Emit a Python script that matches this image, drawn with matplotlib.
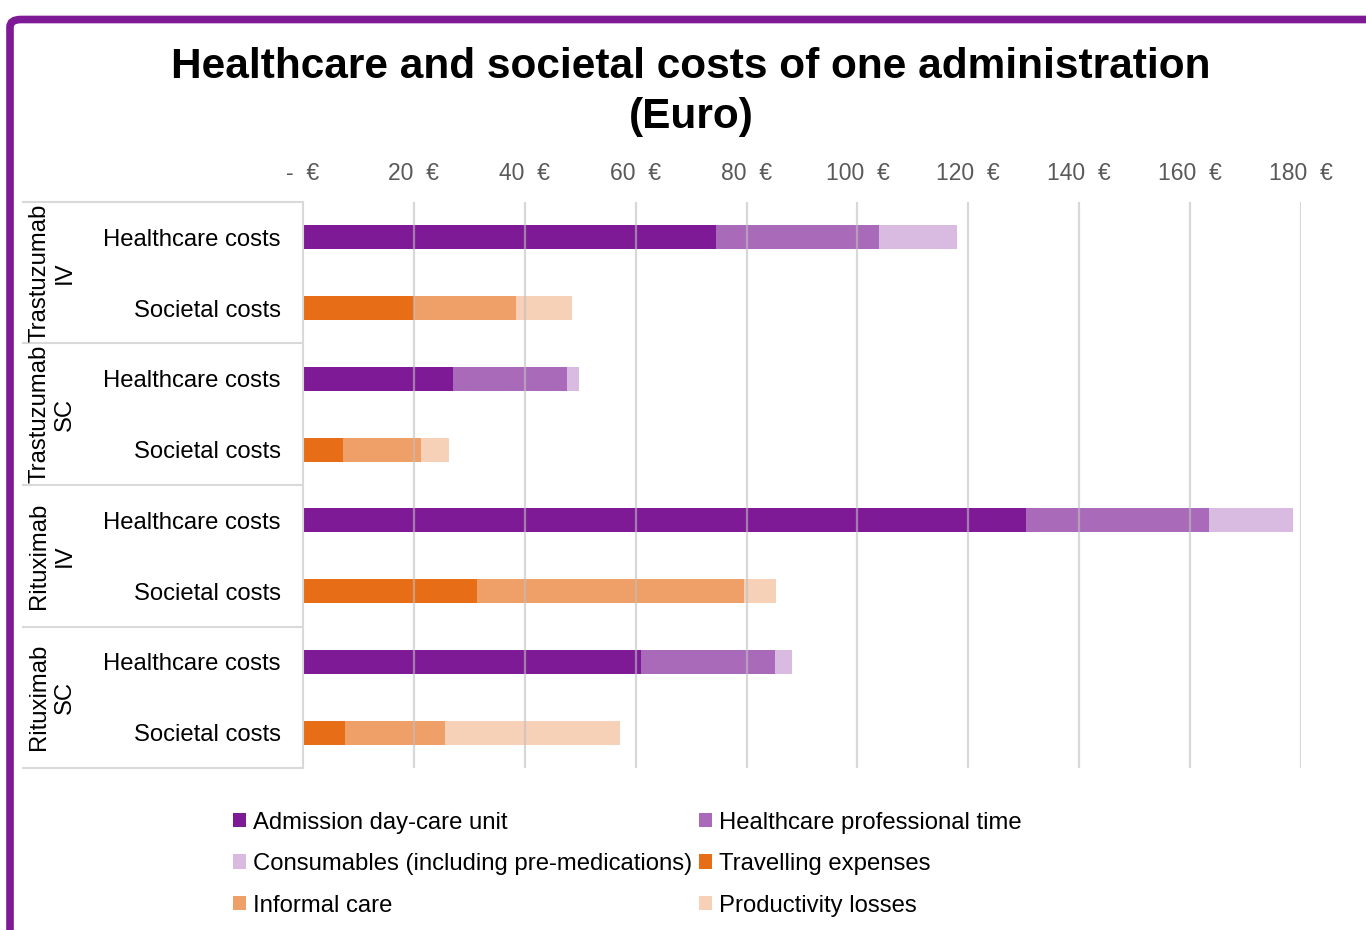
import matplotlib
matplotlib.use('Agg')
from matplotlib import pyplot as plt
from matplotlib.patches import FancyBboxPatch
import numpy as np

plt.rcParams['font.family'] = ['Liberation Sans', 'DejaVu Sans']

# data (Euro), one row per bar, top to bottom
groups = ['Trastuzumab\nIV', 'Trastuzumab\nSC', 'Rituximab\nIV', 'Rituximab\nSC']
rows = ['Healthcare costs', 'Societal costs'] * 4

admission = [74.5, 0, 27.1, 0, 130.4, 0, 61.0, 0]
hcp_time = [29.4, 0, 20.5, 0, 33.0, 0, 24.1, 0]
consumables = [14.1, 0, 2.2, 0, 15.1, 0, 3.1, 0]
travelling = [0, 20.0, 0, 7.2, 0, 31.4, 0, 7.6]
informal = [0, 18.4, 0, 14.1, 0, 48.1, 0, 18.0]
productivity = [0, 10.1, 0, 5.0, 0, 5.8, 0, 31.6]

series = [
    ('Admission day-care unit', admission, '#7f1a97'),
    ('Healthcare professional time', hcp_time, '#a96bb9'),
    ('Consumables (including pre-medications)', consumables, '#d9bae0'),
    ('Travelling expenses', travelling, '#e86d17'),
    ('Informal care', informal, '#ef9f68'),
    ('Productivity losses', productivity, '#f7d1b7'),
]
xticks = [0, 20, 40, 60, 80, 100, 120, 140, 160, 180]

fig = plt.figure(figsize=(13.66, 9.30), dpi=100)

# purple frame
frame = FancyBboxPatch((10 / 1366, -0.1), 1.2, 1 - 19.5 / 930 + 0.1,
                       boxstyle='round,pad=0,rounding_size=0.008',
                       transform=fig.transFigure, facecolor='none',
                       edgecolor='#7f1a97', linewidth=5.5, zorder=0)
fig.patches.append(frame)

ax = fig.add_axes([303 / 1366, 1 - 768 / 930, 998 / 1366, 566 / 930])

y = np.arange(len(rows))
left = np.zeros(len(rows))
handles = {}
for name, vals, col in series:
    vals = np.array(vals)
    b = ax.barh(y, vals, left=left, height=0.34, color=col, label=name, zorder=2)
    handles[name] = b
    left += vals

for xv in xticks[1:]:
    ax.axvline(xv, color='#bfbfbf', alpha=0.6, lw=1.6, zorder=3)

ax.set_xlim(0, 180)
ax.set_ylim(7.5, -0.5)
ax.xaxis.tick_top()
ax.set_xticks(xticks)
ax.set_xticklabels(['-  €' if v == 0 else f'{v}  €' for v in xticks])
ax.tick_params(axis='x', length=0, pad=12, labelsize=16.5, labelcolor='#595959')
ax.set_yticks(y)
ax.set_yticklabels(rows)
ax.tick_params(axis='y', length=0, pad=16, labelsize=17.2)

for s in ['top', 'right', 'bottom']:
    ax.spines[s].set_visible(False)
ax.spines['left'].set_color('#d9d9d9')
ax.spines['left'].set_linewidth(1.5)

# group boxes on the category axis
tr = ax.get_yaxis_transform()
x0 = (23 - 303) / 998
for yb in [-0.5, 1.5, 3.5, 5.5, 7.5]:
    ax.plot([x0, 0], [yb, yb], color='#d9d9d9', lw=1.5, transform=tr, clip_on=False)
for i, g in enumerate(groups):
    ax.text((52 - 303) / 998, 2 * i + 0.5, g, transform=tr, rotation=90,
            ha='center', va='center', multialignment='center', fontsize=17.2,
            linespacing=1.2)

fig.text(691 / 1366, 1 - 92 / 930, 'Healthcare and societal costs of one administration\n(Euro)',
         ha='center', va='center', fontsize=30.5, fontweight='bold', linespacing=1.3)

order = ['Admission day-care unit', 'Consumables (including pre-medications)', 'Informal care',
         'Healthcare professional time', 'Travelling expenses', 'Productivity losses']
fig.legend([handles[n] for n in order], order, ncol=2, loc='upper left',
           bbox_to_anchor=(223 / 1366, 1 - 802 / 930), frameon=False, fontsize=17.2,
           handlelength=0.55, handleheight=0.55, handletextpad=0.3, columnspacing=0.3,
           labelspacing=0.82, borderaxespad=0)

fig.savefig('out.png', dpi=100)
